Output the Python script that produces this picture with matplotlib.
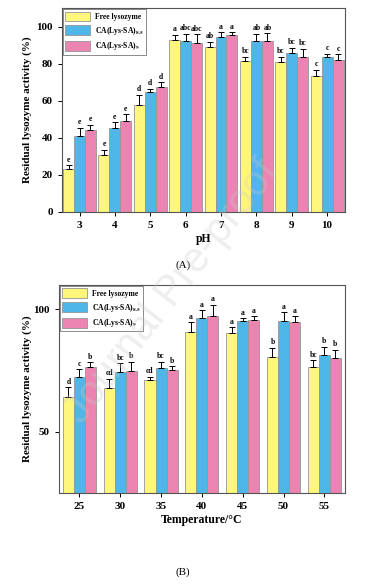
import numpy as np
import matplotlib
matplotlib.use("Agg")
import matplotlib.pyplot as plt

plt.rcParams["font.family"] = ["Liberation Serif", "DejaVu Serif"]
plt.rcParams["font.weight"] = "bold"
plt.rcParams["mathtext.fontset"] = "stix"

series = ["Free lysozyme", r"CA(Lys-SA)$_{\mathbf{8.5}}$", r"CA(Lys-SA)$_{\mathbf{9}}$"]
colors = ["#FFF77C", "#4FB7E7", "#EC84B1"]

# panel A: pH
ph_labels = ["3", "4", "5", "6", "7", "8", "9", "10"]
ph_free = [23.1, 30.5, 57.5, 93.0, 89.1, 81.6, 80.7, 73.6]
ph_free_err = [2.1, 2.9, 5.9, 2.5, 2.7, 2.3, 3.2, 3.2]
ph_85 = [40.9, 45.6, 64.5, 92.2, 94.6, 92.5, 85.9, 83.9]
ph_85_err = [4.5, 2.7, 2.0, 3.8, 2.4, 3.6, 2.7, 1.5]
ph_9 = [44.5, 49.0, 67.3, 91.1, 95.5, 92.5, 83.4, 82.1]
ph_9_err = [2.7, 3.8, 2.7, 4.8, 1.5, 3.9, 4.5, 2.9]
ph_letters = [
    ["e", "e", "d", "a", "ab", "bc", "bc", "c"],
    ["e", "e", "d", "abc", "a", "ab", "bc", "c"],
    ["e", "e", "d", "abc", "a", "ab", "bc", "c"],
]

# panel B: temperature
t_labels = ["25", "30", "35", "40", "45", "50", "55"]
t_free = [64.3, 67.9, 71.3, 90.7, 90.3, 80.5, 76.5]
t_free_err = [3.8, 3.8, 1.2, 4.0, 2.4, 3.7, 2.7]
t_85 = [72.5, 74.3, 76.0, 96.6, 95.3, 95.4, 81.4]
t_85_err = [3.0, 3.7, 2.6, 3.1, 1.1, 3.4, 3.2]
t_9 = [76.5, 74.8, 75.2, 97.4, 95.7, 94.9, 80.2]
t_9_err = [1.9, 3.8, 1.6, 4.6, 1.5, 2.3, 3.2]
t_letters = [
    ["d", "cd", "cd", "a", "a", "b", "bc"],
    ["c", "bc", "bc", "a", "a", "a", "b"],
    ["b", "b", "b", "a", "a", "a", "b"],
]


def draw_panel(ax, labels, vals, errs, letters, width, ylim, yticks, xlabel):
    x = np.arange(len(labels))
    span = ylim[1] - ylim[0]
    for i, (v, e) in enumerate(zip(vals, errs)):
        pos = x + (i - 1) * width
        ax.bar(pos, v, width, color=colors[i], edgecolor="#959595", linewidth=0.6,
               label=series[i], zorder=2)
        ax.errorbar(pos, v, yerr=[np.zeros(len(e)), e], fmt="none", ecolor="black",
                    elinewidth=0.7, capsize=2.2, capthick=0.7, zorder=3)
        for p, vv, ee, lt in zip(pos, v, e, letters[i]):
            ax.text(p, vv + ee + span * 0.008, lt, ha="center", va="bottom",
                    fontsize=5.5, fontweight="bold")
    ax.set_xticks(x)
    ax.set_xticklabels(labels)
    ax.set_xlim(-0.5, len(labels) - 0.5)
    ax.set_ylim(*ylim)
    ax.set_yticks(yticks)
    ax.tick_params(labelsize=8, width=0.7, length=3)
    ax.set_xlabel(xlabel, fontsize=8.5, fontweight="bold", labelpad=2)
    ax.set_ylabel("Residual lysozyme activity (%)", fontsize=8, fontweight="bold")
    for s in ax.spines.values():
        s.set_color("#555555")
        s.set_linewidth(0.8)
    leg = ax.legend(loc="upper left", fontsize=5.5, frameon=True, fancybox=False,
                    edgecolor="#555555", handlelength=3.2, handleheight=1.6,
                    borderaxespad=0.15, labelspacing=0.45, handletextpad=0.7,
                    borderpad=0.3)
    leg.get_frame().set_linewidth(0.6)


fig = plt.figure(figsize=(3.66, 5.84), dpi=100)

ax1 = fig.add_axes([0.169, 0.637, 0.773, 0.349])
draw_panel(ax1, ph_labels, [ph_free, ph_85, ph_9], [ph_free_err, ph_85_err, ph_9_err],
           ph_letters, 0.31, (0, 110), [0, 20, 40, 60, 80, 100], "pH")
ax1.yaxis.set_label_coords(-0.105, 0.5)

ax2 = fig.add_axes([0.161, 0.156, 0.781, 0.356])
draw_panel(ax2, t_labels, [t_free, t_85, t_9], [t_free_err, t_85_err, t_9_err],
           t_letters, 0.27, (25, 110), [50, 100], "Temperature/\u00b0C")
ax2.yaxis.set_label_coords(-0.095, 0.5)

fig.text(0.5, 1 - 265 / 584, "(A)", ha="center", va="center", fontsize=8, fontweight="normal")
fig.text(0.5, 1 - 572 / 584, "(B)", ha="center", va="center", fontsize=8, fontweight="normal")

# faint watermark
fig.text(0.47, 0.5, "Journal Pre-proof", ha="center", va="center", fontsize=30,
         rotation=52, color="#c8c8c8", alpha=0.3, fontweight="normal",
         family=["Liberation Sans", "DejaVu Sans"], zorder=10)

fig.savefig("out.png", dpi=100)
